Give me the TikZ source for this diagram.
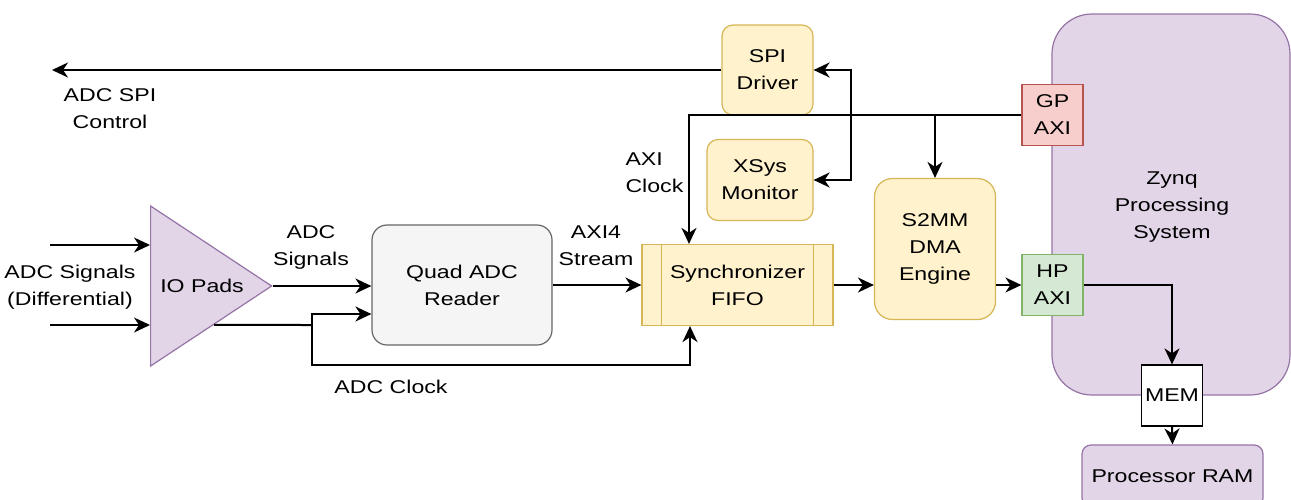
\documentclass[tikz,border=0pt]{standalone}
\usepackage{fontspec}
\setmainfont{Liberation Sans}[FakeStretch=1.25]
\usepackage{xcolor}
\usetikzlibrary{shapes,arrows,positioning,calc,arrows.meta}

\definecolor{ylwfill}{HTML}{FFF2CC}
\definecolor{ylwline}{HTML}{D6B656}
\definecolor{gryfill}{HTML}{F5F5F5}
\definecolor{gryline}{HTML}{666666}
\definecolor{purfill}{HTML}{E1D5E7}
\definecolor{purline}{HTML}{9673A6}
\definecolor{redfill}{HTML}{F8CECC}
\definecolor{redline}{HTML}{B85450}
\definecolor{grnfill}{HTML}{D5E8D4}
\definecolor{grnline}{HTML}{82B366}

\tikzset{
  base/.style={align=center, inner sep=0pt, line width=1.2pt},
  ylwbox/.style={base, rounded corners=11pt, fill=ylwfill, draw=ylwline},
  grybox/.style={base, rounded corners=15pt, fill=gryfill, draw=gryline},
  purbox/.style={base, rounded corners=9pt, fill=purfill, draw=purline},
  port/.style={base, minimum width=61pt, minimum height=61pt},
  arr/.style={line width=2pt, -{Stealth[length=16pt, width=15pt, inset=5pt]}},
  wire/.style={line width=2pt}
}

\begin{document}
\begin{tikzpicture}[x=1pt, y=-1pt, font=\fontsize{18.5}{27}\selectfont]
    \useasboundingbox (0,0) rectangle (1291,499);

    % Zynq PS
    \node[purbox, rounded corners=40pt, minimum width=238pt, minimum height=381pt] (zynq) at (1171,204.5) {};
    \node[align=center] (zynqtxt) at (1172,207) {Zynq\\Processing\\System};
    \node[port, fill=redfill, draw=redline] (gp) at (1052.5,115) {GP\\AXI};
    \node[port, fill=grnfill, draw=grnline] (hp) at (1052.5,285) {HP\\AXI};
    \node[purbox, minimum width=181pt, minimum height=62pt] (ram) at (1172.5,476) {Processor RAM};
    \node[port, fill=white, draw=black] (mem) at (1172,395.5) {MEM};

    % PL blocks
    \node[ylwbox, minimum width=91pt, minimum height=90pt] (spi) at (767.5,70) {SPI\\Driver};
    \node[ylwbox, minimum width=106pt, minimum height=81pt] (xsys) at (760,180) {XSys\\Monitor};
    \node[ylwbox, rounded corners=18pt, minimum width=121pt, minimum height=141pt] (dma) at (935,249) {S2MM\\DMA\\Engine};
    \node[base, fill=ylwfill, draw=ylwline, minimum width=191pt, minimum height=81pt] (fifo) at (737.5,285) {Synchronizer\\FIFO};
    \draw[ylwline, line width=1.2pt] ([xshift=20pt]fifo.north west) -- ([xshift=20pt]fifo.south west)
        ([xshift=-20pt]fifo.north east) -- ([xshift=-20pt]fifo.south east);
    \node[grybox, minimum width=180pt, minimum height=120pt] (quad) at (462,285) {Quad ADC\\Reader};

    % IO pads
    \node[base, isosceles triangle, isosceles triangle stretches, minimum width=160pt, minimum height=121pt,
          fill=purfill, draw=purline, anchor=lower side] (io) at (150,286) {IO Pads};

    % inputs
    \coordinate (inA) at (50,245);
    \coordinate (inB) at (50,325);
    \draw[arr] (inA) -- (inA -| io.lower side);
    \draw[arr] (inB) -- (inB -| io.lower side);
    \node[align=center] (adcin) at (70,287) {ADC Signals\\(Differential)};

    % data path
    \draw[arr] (io.apex) -- (io.apex -| quad.west);
    \node[align=center] (sig) at (311,247) {ADC\\Signals};
    \draw[arr] (quad.east) -- (quad.east -| fifo.west);
    \node[align=center] (strm) at (596,246) {AXI4\\Stream};
    \draw[arr] (fifo.east) -- (fifo.east -| dma.west);
    \draw[arr] (dma.east |- hp.west) -- (hp.west);
    \draw[arr] (hp.east) -| (mem.north);
    \draw[arr] (mem.south) -- (ram.north);

    % ADC clock
    \coordinate (clk) at ($(io.apex)!0.48!(io.right corner)$);
    \coordinate (clkjn) at (312,325);
    \draw[wire] (clk) -- (clkjn);
    \draw[arr] (clkjn) |- ([yshift=-29pt]quad.west);
    \draw[arr] (clkjn) -- (312,365) -| ([xshift=-47.5pt]fifo.south);
    \node (adcclk) at (391,387) {ADC Clock};

    % GP AXI bus
    \coordinate (busjn) at (851,115);
    \draw[arr] (gp.west) -| ([xshift=-48.5pt]fifo.north);
    \draw[arr] (busjn) |- (spi.east);
    \draw[arr] (busjn) |- (xsys.east);
    \draw[arr] (dma.north |- gp.west) -- (dma.north);
    \node[align=left, anchor=west] (axiclk) at (622,173) {AXI\\Clock};

    % SPI out
    \coordinate (spiout) at (52,70);
    \draw[arr] (spi.west) -- (spiout);
    \node[align=center] (spictl) at (110,109) {ADC SPI\\Control};
\end{tikzpicture}
\end{document}
